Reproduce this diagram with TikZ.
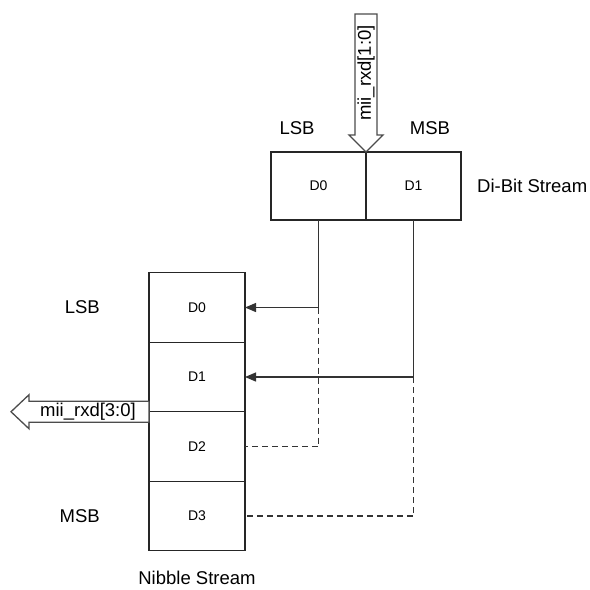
\documentclass[tikz,border=0pt]{standalone}
\usepackage{fontspec}
\setmainfont{Liberation Sans}
\usetikzlibrary{arrows.meta,positioning}

\begin{document}
\begin{tikzpicture}[x=1pt,y=-1pt,>={Triangle[length=11pt,width=9pt]},
  every node/.style={font=\fontsize{18.5}{21}\selectfont},
  cell/.style={draw=black!85,line width=1.3pt,outer sep=0pt,inner sep=0pt,
    font=\fontsize{14}{16}\selectfont},
  dibit/.style={cell,minimum width=95pt,minimum height=68pt},
  nibble/.style={cell,minimum width=96pt,minimum height=69.5pt},
  link/.style={draw=black!80,line width=1.3pt},
  fat/.style={draw=black!70,line width=1.3pt,fill=white}]
\useasboundingbox (0,0) rectangle (590,590);
% di-bit stream
\node[dibit] (d0) at (318.5,186) {D0};
\node[dibit,right=0pt of d0] (d1) {D1};
\node[right=16pt of d1,inner sep=0pt] (dlab) {Di-Bit Stream};
\node (dlsb) at (297,128) {LSB};
\node (dmsb) at (430,128) {MSB};
% nibble stream
\node[nibble] (n0) at (197,307.5) {D0};
\node[nibble,below=0pt of n0] (n1) {D1};
\node[nibble,below=0pt of n1] (n2) {D2};
\node[nibble,below=0pt of n2] (n3) {D3};
\node[left=49pt of n0,inner sep=0pt] (nlsb) {LSB};
\node[left=49pt of n3,inner sep=0pt] (nmsb) {MSB};
\node[below=20pt of n3,inner sep=0pt] (nlab) {Nibble Stream};
% bus arrows
\draw[fat] (d0.north east) -- ++(-17,-17) -- ++(6,0) -- ++(0,-121)
  -- ++(22,0) -- ++(0,121) -- ++(6,0) -- cycle;
\node[rotate=90,inner sep=0pt] (inbus) at (366,73) {mii\_rxd[1:0]};
\coordinate (tap) at (n1.south west);
\draw[fat] (tap) ++(0,-10.5) -- ++(-120,0) -- ++(0,-6.5) -- ++(-18,17)
  -- ++(18,17) -- ++(0,-6.5) -- ++(120,0) -- cycle;
\node[inner sep=0pt] (outbus) at (88,412) {mii\_rxd[3:0]};
% bit routing
\coordinate (b0) at (d0.south |- n0.east);
\coordinate (b1) at (d1.south |- n1.east);
\draw[link,->] (d0.south) -- (b0) -- (n0.east);
\draw[link,->] (d1.south) -- (b1) -- (n1.east);
\draw[link,dash pattern=on 6pt off 4pt] (b0) -- (b0 |- n2.east) -- (n2.east);
\draw[link,dash pattern=on 6pt off 4pt] (b1) -- (b1 |- n3.east) -- (n3.east);
\end{tikzpicture}
\end{document}
